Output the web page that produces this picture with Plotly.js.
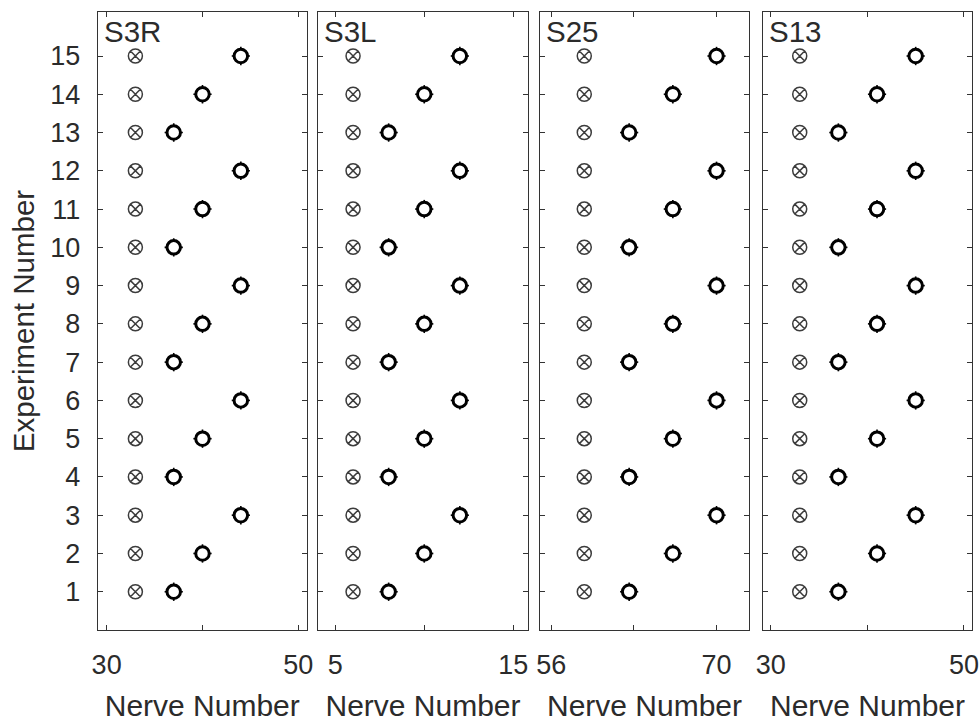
<!DOCTYPE html>
<html>
<head>
<meta charset="utf-8">
<script src="https://cdn.plot.ly/plotly-3.0.1.min.js"></script>
<style>html,body{margin:0;padding:0;background:#fff;}#chart{width:980px;height:722px;}</style>
</head>
<body>
<div id="chart"></div>
<script>
const experiments = [1,2,3,4,5,6,7,8,9,10,11,12,13,14,15];
const panelNames = ['S3R','S3L','S25','S13'];

const refS3R = [33,33,33,33,33,33,33,33,33,33,33,33,33,33,33];
const valS3R = [37,40,44,37,40,44,37,40,44,37,40,44,37,40,44];
const refS3L = [6,6,6,6,6,6,6,6,6,6,6,6,6,6,6];
const valS3L = [8,10,12,8,10,12,8,10,12,8,10,12,8,10,12];
const refS25 = [58.8,58.8,58.8,58.8,58.8,58.8,58.8,58.8,58.8,58.8,58.8,58.8,58.8,58.8,58.8];
const valS25 = [62.6,66.3,70,62.6,66.3,70,62.6,66.3,70,62.6,66.3,70,62.6,66.3,70];
const refS13 = [33,33,33,33,33,33,33,33,33,33,33,33,33,33,33];
const valS13 = [37,41,45,37,41,45,37,41,45,37,41,45,37,41,45];

const xTickVals = [[30,40,50],[5,10,15],[56,63,70],[30,40,50]];
const xTickText = [['30','','50'],['5','','15'],['56','','70'],['30','','50']];
const yTickVals = [1,2,3,4,5,6,7,8,9,10,11,12,13,14,15];

const refs = [refS3R, refS3L, refS25, refS13];
const vals = [valS3R, valS3L, valS25, valS13];

const xRanges = [[29.1,50.85],[4.03,15.83],[55.05,72.75],[29.2,50.83]];
const xDomains = [[98/980,306.5/980],[318/980,528/980],[540/980,749/980],[763/980,972/980]];
const yDomain = [1-630/722, 1-12/722];
const errX = [0.95,0.51,0.77,0.94];

const FONT = 'Liberation Sans, Arial, Helvetica, sans-serif';
const TXT = '#2b2b2b';
const LINE = '#333333';

const traces = [];
for (let i = 0; i < 4; i++) {
  const xa = i === 0 ? 'x' : 'x' + (i+1);
  const ya = i === 0 ? 'y' : 'y' + (i+1);
  traces.push({
    type: 'scatter', mode: 'markers', x: refs[i], y: experiments,
    xaxis: xa, yaxis: ya, showlegend: false, hoverinfo: 'x+y',
    marker: {symbol: 'circle-x-open', size: 14, color: '#3c3c3c', line: {width: 1.5, color: '#3c3c3c'}}
  });
  traces.push({
    type: 'scatter', mode: 'markers', x: vals[i], y: experiments,
    xaxis: xa, yaxis: ya, showlegend: false, hoverinfo: 'x+y',
    error_x: {type: 'constant', value: errX[i], width: 0, thickness: 1.6, color: '#000'},
    error_y: {type: 'constant', value: 0.24, width: 0, thickness: 1.6, color: '#000'},
    marker: {symbol: 'circle', size: 13.5, color: '#ffffff', line: {width: 3, color: '#000000'}}
  });
}

const layout = {
  width: 980, height: 722,
  margin: {l: 0, r: 0, t: 0, b: 0},
  paper_bgcolor: '#ffffff', plot_bgcolor: '#ffffff',
  font: {family: FONT, color: TXT, size: 27},
  showlegend: false,
  annotations: []
};

for (let i = 0; i < 4; i++) {
  const xk = i === 0 ? 'xaxis' : 'xaxis' + (i+1);
  const yk = i === 0 ? 'yaxis' : 'yaxis' + (i+1);
  const xa = i === 0 ? 'x' : 'x' + (i+1);
  const ya = i === 0 ? 'y' : 'y' + (i+1);
  layout[xk] = {
    domain: xDomains[i], range: xRanges[i], anchor: ya,
    tickmode: 'array', tickvals: xTickVals[i], ticktext: xTickText[i],
    ticks: 'inside', ticklen: 5, tickwidth: 1, tickcolor: LINE,
    showline: true, linecolor: LINE, linewidth: 1.3, mirror: 'ticks',
    showgrid: false, zeroline: false, automargin: false,
    ticklabelstandoff: 10,
    tickfont: {family: FONT, size: 27, color: TXT},
    title: {text: 'Nerve Number', font: {family: FONT, size: 30, color: TXT}, standoff: 17}
  };
  layout[yk] = {
    domain: yDomain, range: [0, 16.15], anchor: xa,
    tickmode: 'array', tickvals: yTickVals,
    ticks: 'inside', ticklen: 5, tickwidth: 1, tickcolor: LINE,
    showline: true, linecolor: LINE, linewidth: 1.3, mirror: 'ticks',
    showgrid: false, zeroline: false, automargin: false,
    showticklabels: i === 0,
    ticklabelstandoff: 11,
    tickfont: {family: FONT, size: 27, color: TXT}
  };
  if (i === 0) {
    layout[yk].title = {text: 'Experiment Number', font: {family: FONT, size: 29.5, color: TXT}, standoff: 7};
  }
  layout.annotations.push({
    xref: 'paper', yref: 'paper',
    x: xDomains[i][0] + 4/980, y: 1 - 31/722,
    xanchor: 'left', yanchor: 'middle',
    text: panelNames[i], showarrow: false,
    font: {family: FONT, size: 29.5, color: TXT}
  });
}

Plotly.newPlot('chart', traces, layout, {displayModeBar: false, staticPlot: true});
</script>
</body>
</html>
